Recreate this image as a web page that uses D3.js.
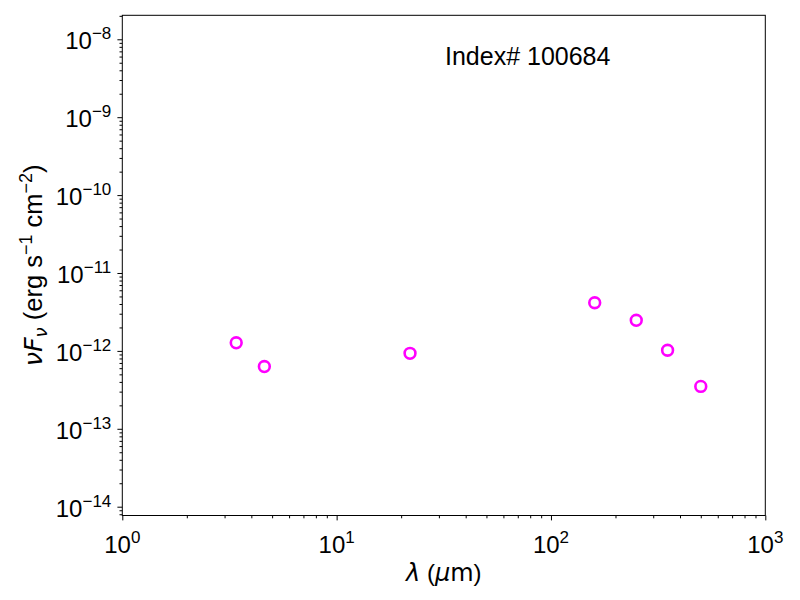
<!DOCTYPE html>
<html>
<head>
<meta charset="utf-8">
<script src="https://cdn.jsdelivr.net/npm/d3@7/dist/d3.min.js"></script>
<style>
  body { margin: 0; background: #fff; }
  svg { font-family: "Liberation Sans", Arial, Helvetica, sans-serif; }
  .axis path, .axis line { stroke: #000; }
</style>
</head>
<body>
<svg id="chart" width="800" height="600"></svg>
<script>
// ── Data ──────────────────────────────────────────────────────────────────────
const wavelength = [3.4, 4.6, 22, 160, 250, 350, 500];                 // µm
const nuFnu      = [1.27e-12, 6.3e-13, 9.3e-13, 4.15e-12, 2.47e-12, 1.02e-12, 3.5e-13];
const xDomain    = [1, 1000];
const yDomain    = [10 ** -14.113, 10 ** -7.692];
const xMajorExp  = [0, 1, 2, 3];
const yMajorExp  = [-14, -13, -12, -11, -10, -9, -8];
const label      = 'Index# 100684';

// ── Layout ────────────────────────────────────────────────────────────────────
const margin = { left: 122.3, right: 34.7, top: 15.3, bottom: 84.5 };
const W = 800, H = 600;
const iw = W - margin.left - margin.right;
const ih = H - margin.top - margin.bottom;

const svg = d3.select('#chart');
const g = svg.append('g').attr('transform', `translate(${margin.left},${margin.top})`);

const x = d3.scaleLog().domain(xDomain).range([0, iw]);
const y = d3.scaleLog().domain(yDomain).range([ih, 0]);

// minor ticks 2..9 per decade, kept inside the domain
function minors(scale, lo, hi) {
  const out = [];
  const [d0, d1] = scale.domain();
  for (let e = lo; e <= hi; e++)
    for (let m = 2; m <= 9; m++) {
      const v = m * 10 ** e;
      if (v >= d0 && v <= d1) out.push(v);
    }
  return out;
}

// ── Axes ──────────────────────────────────────────────────────────────────────
const xMajor = xMajorExp.map(e => 10 ** e);
const yMajor = yMajorExp.map(e => 10 ** e);

g.append('g').attr('class', 'axis').attr('transform', `translate(0,${ih})`)
  .call(d3.axisBottom(x).tickValues(minors(x, 0, 2)).tickSize(2.8).tickFormat(''))
  .call(a => a.select('.domain').remove());
g.append('g').attr('class', 'axis').attr('transform', `translate(0,${ih})`)
  .call(d3.axisBottom(x).tickValues(xMajor).tickSize(4.9).tickFormat(''))
  .call(a => a.select('.domain').remove());

g.append('g').attr('class', 'axis')
  .call(d3.axisLeft(y).tickValues(minors(y, -15, -8)).tickSize(2.8).tickFormat(''))
  .call(a => a.select('.domain').remove());
g.append('g').attr('class', 'axis')
  .call(d3.axisLeft(y).tickValues(yMajor).tickSize(4.9).tickFormat(''))
  .call(a => a.select('.domain').remove());

g.selectAll('.axis line').attr('stroke-width', 1);

// frame
g.append('rect').attr('width', iw).attr('height', ih)
  .attr('fill', 'none').attr('stroke', '#000').attr('stroke-width', 1);

// ── Tick labels with superscripts ─────────────────────────────────────────────
const fmtExp = e => (e < 0 ? '\u2212' + (-e) : String(e));

g.selectAll('.xlab').data(xMajorExp).join('text')
  .attr('class', 'xlab')
  .attr('x', e => x(10 ** e)).attr('y', ih + 38)
  .attr('text-anchor', 'middle').attr('font-size', 24)
  .each(function (e) {
    const t = d3.select(this);
    t.append('tspan').text('10');
    t.append('tspan').attr('font-size', 17).attr('dy', -10).text(fmtExp(e));
  });

g.selectAll('.ylab').data(yMajorExp).join('text')
  .attr('class', 'ylab')
  .attr('x', -11).attr('y', e => y(10 ** e) + 10)
  .attr('text-anchor', 'end').attr('font-size', 24)
  .each(function (e) {
    const t = d3.select(this);
    t.append('tspan').text('10');
    t.append('tspan').attr('font-size', 17).attr('dy', -10).text(fmtExp(e));
  });

// ── Axis titles ───────────────────────────────────────────────────────────────
const xt = svg.append('text')
  .attr('x', margin.left + iw / 2).attr('y', 581)
  .attr('text-anchor', 'middle').attr('font-size', 24);
xt.append('tspan').attr('font-family', 'DejaVu Sans').attr('font-style', 'italic').text('λ');
xt.append('tspan').text(' (');
xt.append('tspan').attr('font-family', 'DejaVu Sans').attr('font-style', 'italic').text('μ');
xt.append('tspan').attr('font-family', 'DejaVu Sans').text('m');
xt.append('tspan').text(')');

const yt = svg.append('text')
  .attr('transform', `translate(42,${margin.top + ih / 2}) rotate(-90)`)
  .attr('text-anchor', 'middle').attr('font-size', 25.5);
yt.append('tspan').attr('font-family', 'DejaVu Sans').attr('font-style', 'italic').text('νF');
yt.append('tspan').attr('font-family', 'DejaVu Sans').attr('font-style', 'italic')
  .attr('font-size', 18).attr('dy', 5).text('ν');
yt.append('tspan').attr('dy', -5).text('\u00a0(erg s');
yt.append('tspan').attr('font-size', 18).attr('dy', -10).text('\u22121');
yt.append('tspan').attr('dy', 10).text(' cm');
yt.append('tspan').attr('font-size', 18).attr('dy', -10).text('\u22122');
yt.append('tspan').attr('dy', 10).text(')');

// ── Annotation ────────────────────────────────────────────────────────────────
svg.append('text').attr('x', 445).attr('y', 65)
  .attr('font-size', 25).text(label);

// ── Points ────────────────────────────────────────────────────────────────────
const pts = wavelength.map((w, i) => ({ w, f: nuFnu[i] }));
g.selectAll('circle.pt').data(pts).join('circle')
  .attr('class', 'pt')
  .attr('cx', d => x(d.w)).attr('cy', d => y(d.f))
  .attr('r', 5.4)
  .attr('fill', 'none').attr('stroke', '#ff00ff').attr('stroke-width', 2.6);
</script>
</body>
</html>
